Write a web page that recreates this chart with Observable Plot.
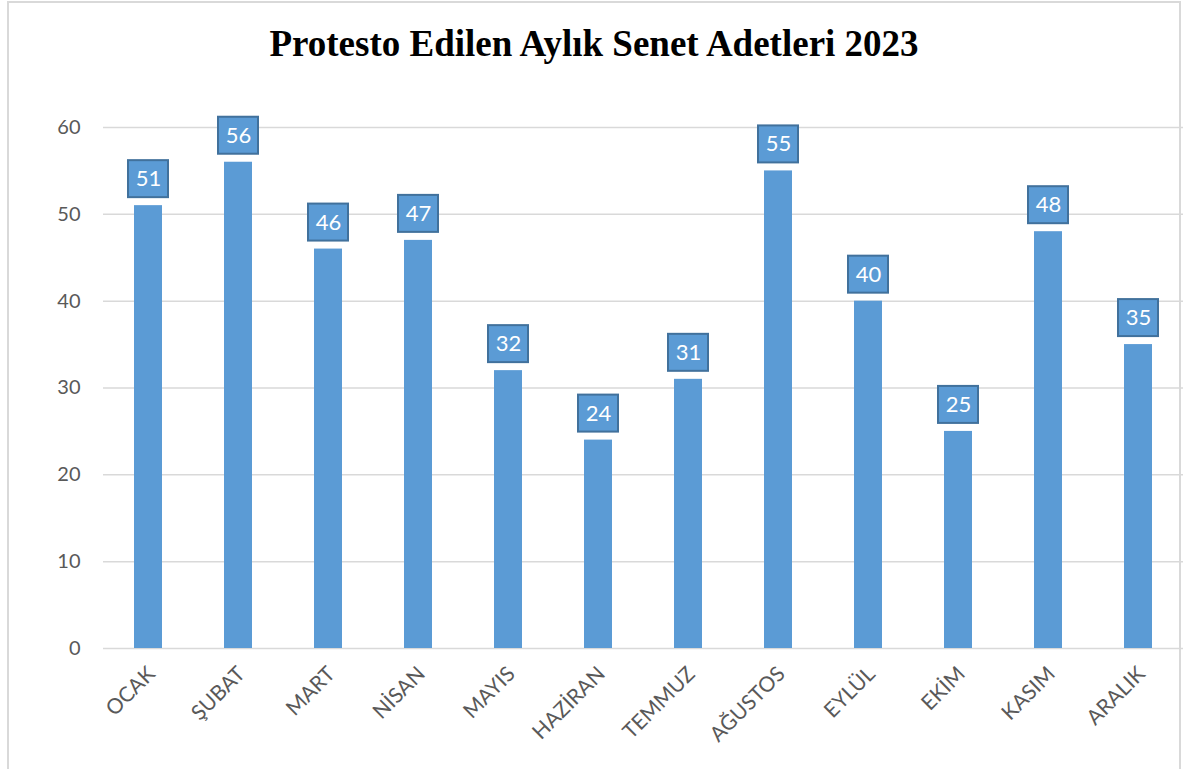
<!DOCTYPE html>
<html>
<head>
<meta charset="utf-8">
<script src="https://cdn.jsdelivr.net/npm/d3@7"></script>
<script src="https://cdn.jsdelivr.net/npm/@observablehq/plot@0.6"></script>
<style>
  html, body { margin: 0; padding: 0; background: #fff; }
  #wrap { position: relative; width: 1184px; height: 769px; overflow: hidden; }
  #border { position: absolute; left: 7px; top: 1px; width: 1174px; height: 800px; border: 2px solid #d9d9d9; box-sizing: border-box; }
  #title { position: absolute; left: 0; width: 1188px; top: 22px; text-align: center;
    font-family: "Liberation Serif", "Times New Roman", serif; font-weight: bold; font-size: 37px; color: #000; }
  #chart { position: absolute; left: 0; top: 0; }
</style>
</head>
<body>
<div id="wrap">
  <div id="border"></div>
  <div id="chart"></div>
  <div id="title">Protesto Edilen Aylık Senet Adetleri 2023</div>
</div>
<script>
const months = ["OCAK", "ŞUBAT", "MART", "NİSAN", "MAYIS", "HAZİRAN", "TEMMUZ", "AĞUSTOS", "EYLÜL", "EKİM", "KASIM", "ARALIK"];
const counts = [51, 56, 46, 47, 32, 24, 31, 55, 40, 25, 48, 35];
const yTicks = [0, 10, 20, 30, 40, 50, 60];

const data = months.map((m, i) => ({month: m, value: counts[i]}));

const plot = Plot.plot({
  width: 1184,
  height: 769,
  marginLeft: 103,
  marginRight: 1,
  marginTop: 127,
  marginBottom: 121,
  style: {fontFamily: "Lato, 'Open Sans', sans-serif", background: "transparent"},
  x: {domain: months, padding: 0},
  y: {domain: [0, 60]},
  marks: [
    Plot.ruleY(yTicks, {stroke: "#d9d9d9", strokeWidth: 1.5}),
    Plot.axisY(yTicks, {tickSize: 0, tickPadding: 23, fontSize: 20, fill: "#595959", label: null}),
    Plot.axisX({tickSize: 0, tickPadding: 22, tickRotate: -45, fontSize: 21, fill: "#595959", label: null, dx: 3}),
    Plot.barY(data, {x: "month", y: "value", fill: "#5b9bd5", insetLeft: 31, insetRight: 31}),
    Plot.barY(data, {x: "month", y1: "value", y2: "value", fill: "#5b9bd5", stroke: "#41719c", strokeWidth: 2,
      insetLeft: 25, insetRight: 25, insetTop: -45, insetBottom: 8}),
    Plot.text(data, {x: "month", y: "value", text: d => String(d.value), dy: -26.5, fill: "white", fontSize: 22})
  ]
});
document.getElementById("chart").appendChild(plot);
</script>
</body>
</html>
